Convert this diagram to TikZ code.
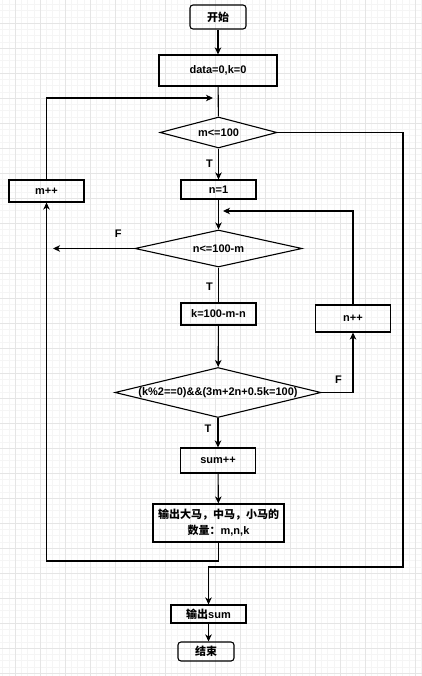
\documentclass[tikz,border=0pt]{standalone}
\usepackage{fontspec}
\setmainfont{Liberation Sans}
\newfontfamily\cjk{Noto Sans CJK SC}
\usetikzlibrary{arrows.meta,shapes.geometric}
\tikzset{
  base/.style={draw=black, line width=1.1pt, inner sep=0pt, font=\fontsize{11}{13}\selectfont\bfseries, align=center},
  box/.style={base, rectangle},
  term/.style={base, rectangle, rounded corners=3pt},
  dia/.style={base, diamond},
  conn/.style={line width=1.1pt, draw=black},
  arr/.style={conn, -{Stealth[length=7pt,width=6.5pt,inset=2pt]}},
  lab/.style={inner sep=0pt, font=\fontsize{11}{13}\selectfont\bfseries},
  gridminor/.style={draw=black!4, line width=0.4pt},
  gridmajor/.style={draw=black!10, line width=0.5pt}
}
\begin{document}
\begin{tikzpicture}[x=1pt, y=-1pt]
\useasboundingbox (0,0) rectangle (422,676);
\fill[white] (0,0) rectangle (422,676);
% faint background grid
\foreach \i in {0,...,70} {
  \draw[gridminor] ({-3.75+6.25*\i},0) -- ({-3.75+6.25*\i},676);
}
\foreach \i in {0,...,109} {
  \draw[gridminor] (0,{4.25+6.25*\i}) -- (422,{4.25+6.25*\i});
}
\foreach \i in {0,...,17} {
  \draw[gridmajor] ({15+25*\i},0) -- ({15+25*\i},676);
}
\foreach \i in {0,...,27} {
  \draw[gridmajor] (0,{-2+25*\i}) -- (422,{-2+25*\i});
}

% nodes
\node[term, minimum width=56pt, minimum height=24pt] (start) at (218,17) {\cjk 开始};
\node[box, minimum width=118pt, minimum height=31pt] (init) at (218,70.5) {data=0,k=0};
\node[dia, minimum width=117pt, minimum height=31pt] (d1) at (218.5,132.5) {\makebox[0pt]{m<=100}};
\node[box, minimum width=75pt, minimum height=19pt] (n1) at (218.5,189.5) {n=1};
\node[dia, minimum width=167pt, minimum height=37pt] (d2) at (218.5,248.5) {\makebox[0pt]{n<=100-m}};
\node[box, minimum width=75pt, minimum height=22pt] (kk) at (218.5,314) {k=100-m-n};
\node[dia, minimum width=206pt, minimum height=50pt] (d3) at (218,392.5) {\makebox[0pt]{(k\%2==0)\&\&(3m+2n+0.5k=100)}};
\node[box, minimum width=75pt, minimum height=25pt] (sum) at (218,460.5) {sum++};
\node[box, minimum width=131pt, minimum height=38pt] (out) at (218.5,523) {{\cjk 输出大马，中马，小马的}\\[3pt]{\cjk 数量：}m,n,k};
\node[box, minimum width=75pt, minimum height=22pt] (mpp) at (46.5,191) {m++};
\node[box, minimum width=75pt, minimum height=27pt] (npp) at (353,318.5) {n++};
\node[box, minimum width=75pt, minimum height=18pt] (outs) at (208.5,614) {{\cjk 输出}sum};
\node[term, minimum width=56pt, minimum height=19pt] (end) at (206,651.5) {\cjk 结束};

% free ends
\coordinate (j1) at (213,98);
\coordinate (j2) at (223,211);
\coordinate (c2) at (53,248.5);
\coordinate (c3) at (218.5,561);
\coordinate (c4) at (403,567);

% connectors
\draw[arr] (start) -- (init);
\draw[conn] (init) -- (d1);
\draw[arr] (mpp.north) |- (j1);
\draw[arr] (d1) -- node[lab, pos=0.5, left=5pt] (t1) {T} (n1);
\draw[arr] (n1) -- (d2);
\draw[conn] (d2) -- node[lab, pos=0.55, left=5pt] (t2) {T} (kk);
\draw[arr] (kk) -- (d3);
\draw[arr] (d3) -- node[lab, pos=0.37, left=6pt] (t3) {T} (sum);
\draw[arr] (sum) -- (out);
\draw[arr] (d2.west) -- node[lab, pos=0.2, above=10pt] (f1) {F} (c2);
\draw[arr] (d3.east) -| node[lab, pos=0.27, above=8pt] (f2) {F} (npp.south);
\draw[arr] (npp.north) |- (j2);
\draw[arr] (out.south) -- (c3) -| (mpp.south);
\draw[arr] (d1.east) -| (c4) -| (outs.north);
\draw[arr] (outs.south) -- (outs.south |- end.north);
\end{tikzpicture}
\end{document}
